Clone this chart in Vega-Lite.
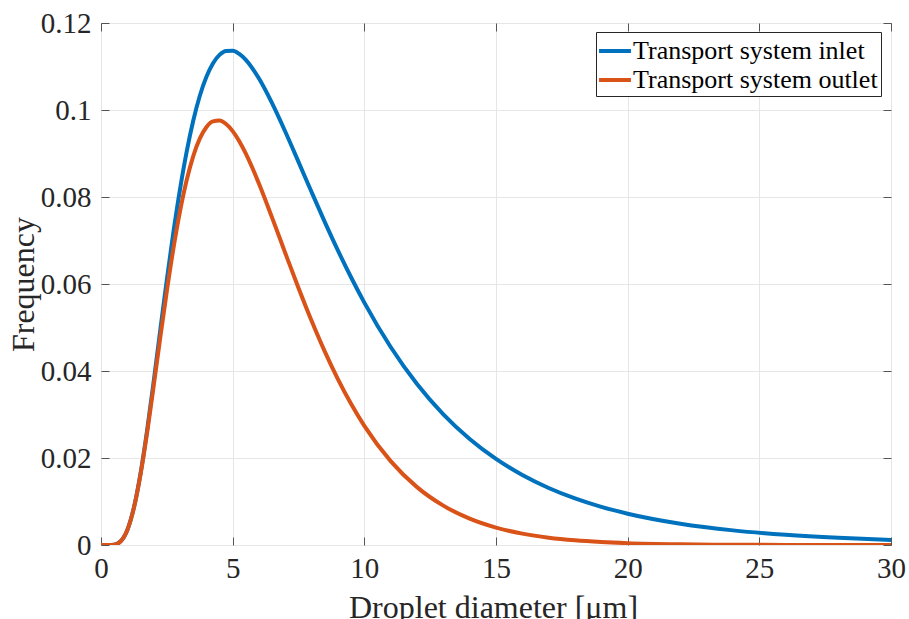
{
  "$schema": "https://vega.github.io/schema/vega-lite/v6.json",
  "width": 790,
  "height": 522,
  "autosize": "none",
  "padding": {"left": 101, "top": 23, "right": 18, "bottom": 74},
  "background": "white",
  "config": {
    "view": {"stroke": "#262626", "strokeWidth": 1},
    "axis": {
      "labelFont": "Liberation Serif",
      "titleFont": "Liberation Serif",
      "labelColor": "#262626",
      "titleColor": "#262626",
      "titleFontWeight": "normal",
      "domain": false,
      "tickColor": "#555555",
      "tickWidth": 1,
      "tickSize": -8,
      "gridColor": "#e6e6e6",
      "gridWidth": 1
    }
  },
  "data": {"values": [
    {"x": 0, "y": 0, "s": "Transport system inlet"},
    {"x": 0.25, "y": 0, "s": "Transport system inlet"},
    {"x": 0.5, "y": 0.00008, "s": "Transport system inlet"},
    {"x": 0.75, "y": 0.00087, "s": "Transport system inlet"},
    {"x": 1, "y": 0.00346, "s": "Transport system inlet"},
    {"x": 1.25, "y": 0.00862, "s": "Transport system inlet"},
    {"x": 1.5, "y": 0.01642, "s": "Transport system inlet"},
    {"x": 1.75, "y": 0.02634, "s": "Transport system inlet"},
    {"x": 2, "y": 0.0376, "s": "Transport system inlet"},
    {"x": 2.25, "y": 0.04939, "s": "Transport system inlet"},
    {"x": 2.5, "y": 0.061, "s": "Transport system inlet"},
    {"x": 2.75, "y": 0.07193, "s": "Transport system inlet"},
    {"x": 3, "y": 0.08177, "s": "Transport system inlet"},
    {"x": 3.25, "y": 0.09033, "s": "Transport system inlet"},
    {"x": 3.5, "y": 0.09748, "s": "Transport system inlet"},
    {"x": 3.75, "y": 0.10322, "s": "Transport system inlet"},
    {"x": 4, "y": 0.10759, "s": "Transport system inlet"},
    {"x": 4.25, "y": 0.11071, "s": "Transport system inlet"},
    {"x": 4.5, "y": 0.11267, "s": "Transport system inlet"},
    {"x": 4.75, "y": 0.11359, "s": "Transport system inlet"},
    {"x": 5, "y": 0.11363, "s": "Transport system inlet"},
    {"x": 5.25, "y": 0.11289, "s": "Transport system inlet"},
    {"x": 5.5, "y": 0.11151, "s": "Transport system inlet"},
    {"x": 5.75, "y": 0.10958, "s": "Transport system inlet"},
    {"x": 6, "y": 0.10722, "s": "Transport system inlet"},
    {"x": 6.5, "y": 0.10151, "s": "Transport system inlet"},
    {"x": 7, "y": 0.09499, "s": "Transport system inlet"},
    {"x": 7.5, "y": 0.08807, "s": "Transport system inlet"},
    {"x": 8, "y": 0.08108, "s": "Transport system inlet"},
    {"x": 8.5, "y": 0.07423, "s": "Transport system inlet"},
    {"x": 9, "y": 0.06767, "s": "Transport system inlet"},
    {"x": 9.5, "y": 0.06149, "s": "Transport system inlet"},
    {"x": 10, "y": 0.05572, "s": "Transport system inlet"},
    {"x": 11, "y": 0.04551, "s": "Transport system inlet"},
    {"x": 12, "y": 0.03701, "s": "Transport system inlet"},
    {"x": 13, "y": 0.03004, "s": "Transport system inlet"},
    {"x": 14, "y": 0.02437, "s": "Transport system inlet"},
    {"x": 15, "y": 0.01978, "s": "Transport system inlet"},
    {"x": 16, "y": 0.01608, "s": "Transport system inlet"},
    {"x": 17, "y": 0.0131, "s": "Transport system inlet"},
    {"x": 18, "y": 0.0107, "s": "Transport system inlet"},
    {"x": 19, "y": 0.00876, "s": "Transport system inlet"},
    {"x": 20, "y": 0.00719, "s": "Transport system inlet"},
    {"x": 22, "y": 0.00489, "s": "Transport system inlet"},
    {"x": 24, "y": 0.00336, "s": "Transport system inlet"},
    {"x": 26, "y": 0.00234, "s": "Transport system inlet"},
    {"x": 28, "y": 0.00165, "s": "Transport system inlet"},
    {"x": 30, "y": 0.00117, "s": "Transport system inlet"},
    {"x": 0, "y": 0, "s": "Transport system outlet"},
    {"x": 0.25, "y": 0, "s": "Transport system outlet"},
    {"x": 0.5, "y": 0.00008, "s": "Transport system outlet"},
    {"x": 0.75, "y": 0.00086, "s": "Transport system outlet"},
    {"x": 1, "y": 0.00343, "s": "Transport system outlet"},
    {"x": 1.25, "y": 0.00853, "s": "Transport system outlet"},
    {"x": 1.5, "y": 0.01616, "s": "Transport system outlet"},
    {"x": 1.75, "y": 0.02577, "s": "Transport system outlet"},
    {"x": 2, "y": 0.03655, "s": "Transport system outlet"},
    {"x": 2.25, "y": 0.04765, "s": "Transport system outlet"},
    {"x": 2.5, "y": 0.05835, "s": "Transport system outlet"},
    {"x": 2.75, "y": 0.06817, "s": "Transport system outlet"},
    {"x": 3, "y": 0.07671, "s": "Transport system outlet"},
    {"x": 3.25, "y": 0.0838, "s": "Transport system outlet"},
    {"x": 3.5, "y": 0.08936, "s": "Transport system outlet"},
    {"x": 3.75, "y": 0.09341, "s": "Transport system outlet"},
    {"x": 4, "y": 0.09604, "s": "Transport system outlet"},
    {"x": 4.25, "y": 0.09738, "s": "Transport system outlet"},
    {"x": 4.5, "y": 0.09758, "s": "Transport system outlet"},
    {"x": 4.75, "y": 0.09678, "s": "Transport system outlet"},
    {"x": 5, "y": 0.09515, "s": "Transport system outlet"},
    {"x": 5.25, "y": 0.09283, "s": "Transport system outlet"},
    {"x": 5.5, "y": 0.08996, "s": "Transport system outlet"},
    {"x": 5.75, "y": 0.08665, "s": "Transport system outlet"},
    {"x": 6, "y": 0.08304, "s": "Transport system outlet"},
    {"x": 6.5, "y": 0.0752, "s": "Transport system outlet"},
    {"x": 7, "y": 0.06708, "s": "Transport system outlet"},
    {"x": 7.5, "y": 0.05907, "s": "Transport system outlet"},
    {"x": 8, "y": 0.05147, "s": "Transport system outlet"},
    {"x": 8.5, "y": 0.04444, "s": "Transport system outlet"},
    {"x": 9, "y": 0.03807, "s": "Transport system outlet"},
    {"x": 9.5, "y": 0.0324, "s": "Transport system outlet"},
    {"x": 10, "y": 0.02739, "s": "Transport system outlet"},
    {"x": 11, "y": 0.01928, "s": "Transport system outlet"},
    {"x": 12, "y": 0.01331, "s": "Transport system outlet"},
    {"x": 13, "y": 0.00905, "s": "Transport system outlet"},
    {"x": 14, "y": 0.00606, "s": "Transport system outlet"},
    {"x": 15, "y": 0.004, "s": "Transport system outlet"},
    {"x": 16, "y": 0.00261, "s": "Transport system outlet"},
    {"x": 17, "y": 0.00168, "s": "Transport system outlet"},
    {"x": 18, "y": 0.00107, "s": "Transport system outlet"},
    {"x": 19, "y": 0.00068, "s": "Transport system outlet"},
    {"x": 20, "y": 0.00042, "s": "Transport system outlet"},
    {"x": 22, "y": 0.00016, "s": "Transport system outlet"},
    {"x": 24, "y": 0.00006, "s": "Transport system outlet"},
    {"x": 26, "y": 0.00002, "s": "Transport system outlet"},
    {"x": 28, "y": 0.00001, "s": "Transport system outlet"},
    {"x": 30, "y": 0, "s": "Transport system outlet"}
  ]},
  "layer": [
    {
      "mark": {"type": "line", "strokeWidth": 4, "interpolate": "monotone", "clip": true},
      "encoding": {
        "x": {
          "field": "x", "type": "quantitative",
          "scale": {"domain": [0, 30], "nice": false, "zero": false},
          "axis": {
            "orient": "bottom",
            "values": [0, 5, 10, 15, 20, 25, 30],
            "format": "d",
            "labelFontSize": 29,
            "labelPadding": 17,
            "labelFlush": false,
            "labelOverlap": false,
            "grid": true,
            "title": "Droplet diameter [μm]",
            "titleFontSize": 32,
            "titleBaseline": "alphabetic",
            "titleX": 392,
            "titleY": 72
          }
        },
        "y": {
          "field": "y", "type": "quantitative",
          "scale": {"domain": [0, 0.12], "nice": false},
          "axis": {
            "orient": "left",
            "values": [0, 0.02, 0.04, 0.06, 0.08, 0.1, 0.12],
            "format": ".2~f",
            "labelFontSize": 29,
            "labelPadding": 18,
            "labelFlush": false,
            "labelOverlap": false,
            "grid": true,
            "title": "Frequency",
            "titleFontSize": 32,
            "titleAngle": -90,
            "titleAlign": "center",
            "titleBaseline": "alphabetic",
            "titleX": -68,
            "titleY": 261
          }
        },
        "color": {
          "field": "s", "type": "nominal",
          "scale": {"domain": ["Transport system inlet", "Transport system outlet"], "range": ["#0072BD", "#D95319"]},
          "legend": {
            "orient": "none",
            "legendX": 495,
            "legendY": 9,
            "title": null,
            "strokeColor": "#262626",
            "fillColor": "white",
            "padding": 3,
            "symbolType": "M-1.14,0H1.14",
            "symbolSize": 784,
            "symbolStrokeWidth": 4,
            "labelFont": "Liberation Serif",
            "labelFontSize": 26,
            "labelColor": "black",
            "labelOffset": 2,
            "rowPadding": 0,
            "labelLimit": 400
          }
        }
      }
    },
    {
      "mark": {"type": "line", "strokeOpacity": 0},
      "encoding": {
        "x": {
          "field": "x", "type": "quantitative",
          "axis": {"orient": "top", "values": [0, 5, 10, 15, 20, 25, 30], "labels": false, "title": null, "grid": false}
        },
        "y": {
          "field": "y", "type": "quantitative",
          "axis": {"orient": "right", "values": [0, 0.02, 0.04, 0.06, 0.08, 0.1, 0.12], "labels": false, "title": null, "grid": false}
        }
      }
    }
  ],
  "resolve": {"axis": {"x": "independent", "y": "independent"}}
}
